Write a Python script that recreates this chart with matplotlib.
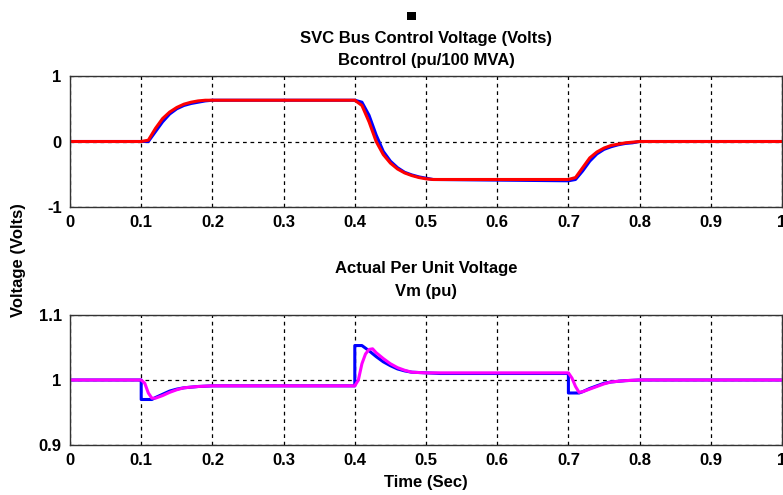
import matplotlib
matplotlib.use('Agg')
import matplotlib.pyplot as plt
from matplotlib.patches import Rectangle

# top panel: SVC bus control voltage (blue) and Bcontrol (red)
t_vc = [0, 0.1, 0.11, 0.12, 0.13, 0.14, 0.15, 0.16, 0.17, 0.18, 0.19, 0.2,
        0.4, 0.41, 0.42, 0.43, 0.44, 0.45, 0.46, 0.47, 0.48, 0.49, 0.5, 0.51,
        0.7, 0.71, 0.72, 0.73, 0.74, 0.75, 0.76, 0.77, 0.78, 0.79, 0.8, 1.0]
v_ctrl = [0, 0, 0.0, 0.15, 0.3, 0.42, 0.5, 0.55, 0.58, 0.6, 0.62, 0.63,
          0.63, 0.6, 0.4, 0.1, -0.15, -0.3, -0.4, -0.47, -0.51, -0.54, -0.56, -0.58,
          -0.6, -0.58, -0.45, -0.3, -0.19, -0.12, -0.08, -0.05, -0.03, -0.02, 0, 0]
b_ctrl = [0, 0, 0.02, 0.2, 0.35, 0.45, 0.52, 0.57, 0.6, 0.62, 0.63, 0.63,
          0.63, 0.55, 0.3, 0.0, -0.2, -0.33, -0.42, -0.48, -0.52, -0.55, -0.57, -0.58,
          -0.58, -0.55, -0.4, -0.25, -0.16, -0.1, -0.06, -0.04, -0.02, -0.01, 0, 0]

# bottom panel: actual per unit voltage (blue) and Vm (magenta)
t_act = [0, 0.1, 0.1, 0.115, 0.12, 0.13, 0.14, 0.15, 0.16, 0.18, 0.2,
         0.4, 0.4, 0.41, 0.42, 0.43, 0.44, 0.45, 0.46, 0.47, 0.48, 0.5, 0.52,
         0.7, 0.7, 0.715, 0.72, 0.73, 0.74, 0.75, 0.76, 0.78, 0.8, 1.0]
v_act = [1.0, 1.0, 0.97, 0.97, 0.973, 0.978, 0.983, 0.986, 0.988, 0.99, 0.991,
         0.991, 1.053, 1.053, 1.045, 1.036, 1.028, 1.022, 1.017, 1.014, 1.012, 1.011, 1.01,
         1.01, 0.98, 0.98, 0.982, 0.987, 0.991, 0.995, 0.997, 0.999, 1.0, 1.0]
t_vm = [0, 0.1, 0.105, 0.11, 0.115, 0.12, 0.13, 0.14, 0.15, 0.16, 0.18, 0.2,
        0.4, 0.405, 0.41, 0.415, 0.42, 0.425, 0.43, 0.44, 0.45, 0.46, 0.47, 0.48, 0.5,
        0.7, 0.705, 0.71, 0.715, 0.72, 0.73, 0.74, 0.75, 0.76, 0.78, 0.8, 1.0]
v_vm = [1.0, 1.0, 0.995, 0.98, 0.972, 0.972, 0.976, 0.981, 0.985, 0.988, 0.99, 0.991,
        0.991, 1.0, 1.025, 1.04, 1.047, 1.048, 1.042, 1.033, 1.025, 1.019, 1.015, 1.012, 1.011,
        1.011, 1.003, 0.99, 0.981, 0.982, 0.986, 0.99, 0.994, 0.997, 0.999, 1.0, 1.0]

xticks = [0, 0.1, 0.2, 0.3, 0.4, 0.5, 0.6, 0.7, 0.8, 0.9, 1]
xticklabels = ['0', '0.1', '0.2', '0.3', '0.4', '0.5', '0.6', '0.7', '0.8', '0.9', '1']

plt.rcParams['font.family'] = ['Liberation Sans', 'DejaVu Sans']
txtsize = 12

fig = plt.figure(figsize=(7.83, 4.95), dpi=100)
ax1 = fig.add_axes([70/783, 1-207/495, 712/783, 131/495])
ax2 = fig.add_axes([70/783, 1-445/495, 712/783, 130/495])

ax1.plot(t_vc, v_ctrl, color='blue', lw=2.2)
ax1.plot(t_vc, b_ctrl, color='red', lw=2.2)
ax2.plot(t_act, v_act, color='blue', lw=2.2)
ax2.plot(t_vm, v_vm, color='magenta', lw=2.2)

ax1.set_ylim(-1, 1)
ax1.set_yticks([-1, 0, 1])
ax1.set_yticklabels(['-1', '0', '1'])
ax2.set_ylim(0.9, 1.1)
ax2.set_yticks([0.9, 1.0, 1.1])
ax2.set_yticklabels(['0.9', '1', '1.1'])

for ax in (ax1, ax2):
    ax.set_xlim(0, 1)
    ax.set_xticks(xticks)
    ax.set_xticklabels(xticklabels)
    ax.grid(True, color='black', linestyle=(0, (3, 3)), linewidth=0.9)
    ax.tick_params(axis='both', labelsize=txtsize, length=0, pad=6)
    for lab in ax.get_xticklabels() + ax.get_yticklabels():
        lab.set_fontweight('bold')
    for sp in ax.spines.values():
        sp.set_color('#333333')
        sp.set_linewidth(1.0)

ax1.set_title('SVC Bus Control Voltage (Volts)\nBcontrol (pu/100 MVA)',
              fontsize=txtsize, fontweight='bold', pad=8, linespacing=1.6)
ax2.set_title('Actual Per Unit Voltage\nVm (pu)',
              fontsize=txtsize, fontweight='bold', pad=14, linespacing=1.6)
ax2.set_xlabel('Time (Sec)', fontsize=txtsize, fontweight='bold', labelpad=5)
fig.text(19/783, 1-260/495, 'Voltage (Volts)', rotation=90, ha='center', va='center',
         fontsize=txtsize, fontweight='bold')

fig.patches.append(Rectangle((407/783, 1-20/495), 9/783, 8/495, transform=fig.transFigure,
                             facecolor='black', edgecolor='none'))

fig.savefig('out.png', dpi=100)
